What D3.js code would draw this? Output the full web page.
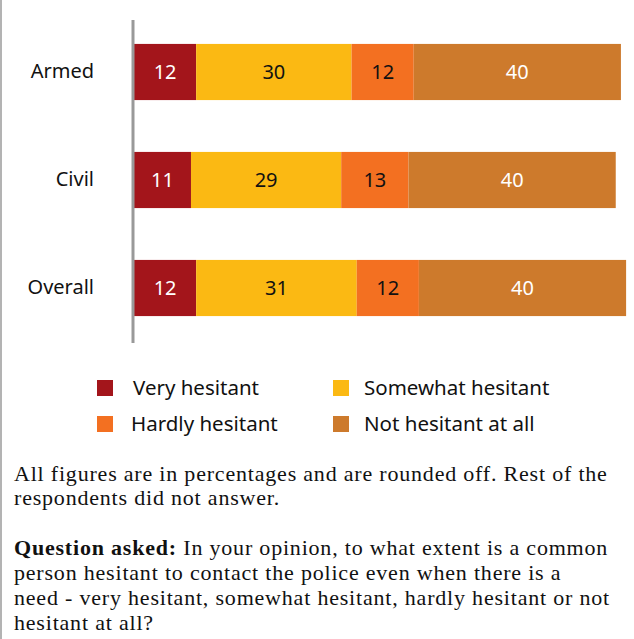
<!DOCTYPE html>
<html>
<head>
<meta charset="utf-8">
<script src="https://cdn.jsdelivr.net/npm/d3@7"></script>
<style>
  body { margin: 0; background: #fff; }
  svg { display: block; }
</style>
</head>
<body>
<div id="chart"></div>
<script>
// --------------------------------------
//  Data
// --------------------------------------

const categories = ["Armed", "Civil", "Overall"];
const series = ["Very hesitant", "Somewhat hesitant", "Hardly hesitant", "Not hesitant at all"];
const veryHesitant = [12, 11, 12];
const somewhatHesitant = [30, 29, 31];
const hardlyHesitant = [12, 13, 12];
const notHesitant = [40, 40, 40];
const colors = ["#a3151b", "#fbb913", "#f37021", "#cd7a2c"];
const labelColors = ["#fff", "#111", "#111", "#fff"];

const noteLines = [
  "All figures are in percentages and are rounded off. Rest of the",
  "respondents did not answer."
];
const questionLines = [
  " In your opinion, to what extent is a common",
  "person hesitant to contact the police even when there is a",
  "need - very hesitant, somewhat hesitant, hardly hesitant or not",
  "hesitant at all?"
];

// --------------------------------------
//  Canvas
// --------------------------------------

const width = 634;
const height = 639;

const svg = d3.select("#chart")
  .append("svg")
    .attr("width", width)
    .attr("height", height);

// left border
svg.append("line")
    .attr("x1", 1).attr("x2", 1)
    .attr("y1", 0).attr("y2", height)
    .attr("stroke", "#b3b3b3")
    .attr("stroke-width", 2);

const table = categories.map((c, i) => ({
  cat: c,
  "Very hesitant": veryHesitant[i],
  "Somewhat hesitant": somewhatHesitant[i],
  "Hardly hesitant": hardlyHesitant[i],
  "Not hesitant at all": notHesitant[i]
}));

const stacked = d3.stack().keys(series)(table);

// --------------------------------------
//  Scales
// --------------------------------------

const x = d3.scaleLinear()
    .domain([0, 100])
    .range([134, 652]);

const y = d3.scaleBand()
    .domain(categories)
    .range([18, 342])
    .paddingInner(0.48)
    .paddingOuter(0.24);

const sans = "'Noto Sans', 'Open Sans', sans-serif";

// --------------------------------------
//  Bars
// --------------------------------------

const layer = svg.append("g")
  .selectAll("g")
  .data(stacked)
  .join("g")
    .attr("fill", (d, i) => colors[i]);

layer.selectAll("rect")
  .data(d => d)
  .join("rect")
    .attr("x", d => x(d[0]))
    .attr("y", d => y(d.data.cat))
    .attr("width", d => x(d[1]) - x(d[0]))
    .attr("height", y.bandwidth());

svg.append("g")
  .selectAll("g")
  .data(stacked)
  .join("g")
    .attr("fill", (d, i) => labelColors[i])
  .selectAll("text")
  .data(d => d)
  .join("text")
    .attr("x", d => (x(d[0]) + x(d[1])) / 2)
    .attr("y", d => y(d.data.cat) + y.bandwidth() / 2)
    .attr("dy", "0.35em")
    .attr("text-anchor", "middle")
    .attr("font-family", sans)
    .attr("font-size", 20)
    .text(d => d[1] - d[0]);

// --------------------------------------
//  Axis
// --------------------------------------

const yAxis = svg.append("g")
    .attr("transform", "translate(133, 0)")
    .call(d3.axisLeft(y).tickSize(0).tickPadding(39));

yAxis.select(".domain")
    .attr("d", "M0,20V343")
    .attr("stroke", "#999")
    .attr("stroke-width", 3);

yAxis.selectAll("text")
    .attr("font-family", sans)
    .attr("font-size", 20)
    .attr("fill", "#111");

// --------------------------------------
//  Legend
// --------------------------------------

const legendPos = [[97, 380], [333, 380], [97, 416], [333, 416]];
const legendText = [133, 364, 131, 364];

const legend = svg.append("g")
  .selectAll("g")
  .data(series)
  .join("g");

legend.append("rect")
    .attr("x", (d, i) => legendPos[i][0])
    .attr("y", (d, i) => legendPos[i][1])
    .attr("width", 16)
    .attr("height", 16)
    .attr("fill", (d, i) => colors[i]);

legend.append("text")
    .attr("x", (d, i) => legendText[i])
    .attr("y", (d, i) => legendPos[i][1] + 8)
    .attr("dy", "0.35em")
    .attr("font-family", sans)
    .attr("font-size", 20.5)
    .attr("fill", "#111")
    .text(d => d);

// --------------------------------------
//  Notes
// --------------------------------------

const serif = "'Liberation Serif', 'DejaVu Serif', serif";

svg.append("g")
  .selectAll("text")
  .data(noteLines)
  .join("text")
    .attr("x", 14)
    .attr("y", (d, i) => 481 + i * 24)
    .attr("font-family", serif)
    .attr("font-size", 22)
    .attr("letter-spacing", 0.8)
    .attr("fill", "#111")
    .text(d => d);

const q = svg.append("g")
  .selectAll("text")
  .data(questionLines)
  .join("text")
    .attr("x", 14)
    .attr("y", (d, i) => 555 + i * 25)
    .attr("font-family", serif)
    .attr("font-size", 22)
    .attr("letter-spacing", 0.8)
    .attr("fill", "#111")
    .style("white-space", "pre");

q.filter((d, i) => i === 0)
  .append("tspan")
    .attr("font-weight", "bold")
    .text("Question asked:");

q.append("tspan").text(d => d);
</script>
</body>
</html>
